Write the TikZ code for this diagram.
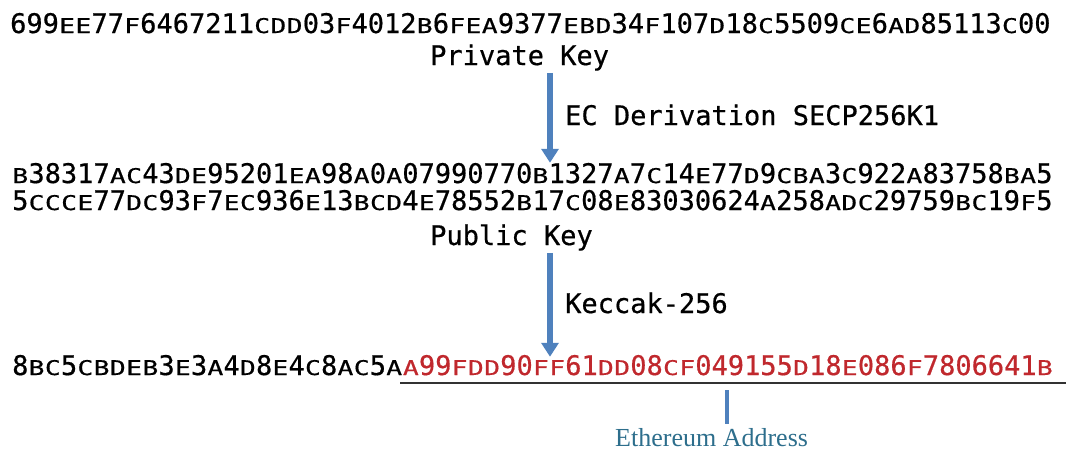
\documentclass[tikz,border=0pt]{standalone}
\usepackage{fontspec}
\usepackage{graphicx}
\setmonofont{DejaVu Sans Mono}[FakeBold=0.6]
\newfontfamily\addrserif{Liberation Serif}
\usetikzlibrary{arrows.meta}
\ExplSyntaxOn
\NewDocumentCommand\hexstr{m}{\tl_map_inline:nn{#1}{\hexch{##1}}}
\ExplSyntaxOff
\newcommand\hexch[1]{\ifcat A#1\hbox to \fontcharwd\font`0{\hss\scalebox{0.97}[0.75]{#1}\hss}\else#1\fi}
\definecolor{arrowblue}{RGB}{79,129,189}
\definecolor{addrred}{RGB}{192,40,45}
\definecolor{addrteal}{RGB}{45,110,140}
\definecolor{ulgray}{RGB}{50,50,50}
\tikzset{
  monotext/.style={font=\fontsize{27}{32}\selectfont\ttfamily, inner sep=0pt, anchor=base west},
  steparrow/.style={draw=arrowblue, line width=5.5pt, -{Triangle[width=17pt,length=14pt]}},
  underl/.style={draw=ulgray, line width=2pt},
  pointer/.style={draw=arrowblue, line width=4pt},
  addrlabel/.style={font=\fontsize{26}{30}\selectfont\addrserif, text=addrteal, inner sep=0pt, anchor=base west}
}
\begin{document}
\begin{tikzpicture}[x=1pt,y=1pt]
\useasboundingbox (0,0) rectangle (1068,-450);
\node[monotext] (priv) at (10,-33) {\hexstr{699EE77F6467211CDD03F4012B6FEA9377EBD34F107D18C5509CE6AD85113C00}};
\node[monotext] (privlbl) at (430,-65) {Private Key};
\node[monotext] (derivlbl) at (565,-125) {EC Derivation SECP256K1};
\node[monotext] (pub1) at (12,-183) {\hexstr{B38317AC43DE95201EA98A0A07990770B1327A7C14E77D9CBA3C922A83758BA5}};
\node[monotext] (pub2) at (12,-210) {\hexstr{5CCCE77DC93F7EC936E13BCD4E78552B17C08E83030624A258ADC29759BC19F5}};
\node[monotext] (publbl) at (430,-245) {Public Key};
\node[monotext] (kecclbl) at (565,-313) {Keccak-256};
\node[monotext] (pre) at (12,-375) {\hexstr{8BC5CBDEB3E3A4D8E4C8AC5A}};
\node[monotext, text=addrred, anchor=base west] (addr) at (pre.base east) {\hexstr{A99FDD90FF61DD08CF049155D18E086F7806641B}};
\node[addrlabel] (ethlbl) at (615,-446) {Ethereum Address};
\coordinate (ax) at (550,0);
\coordinate (ulstart) at (400,-383);
\coordinate (ulend) at (1066,-383);
\coordinate (barx) at (727,0);
\draw[steparrow] (privlbl.south -| ax) ++(0,-2) -- (pub1.north -| ax);
\draw[steparrow] (publbl.south -| ax) ++(0,-2) -- ([yshift=-2pt]addr.north -| ax);
\draw[underl] (ulstart) -- (ulend);
\draw[pointer] ([yshift=-7pt]ulstart -| barx) -- ([yshift=4pt]ethlbl.north -| barx);
\end{tikzpicture}
\end{document}
